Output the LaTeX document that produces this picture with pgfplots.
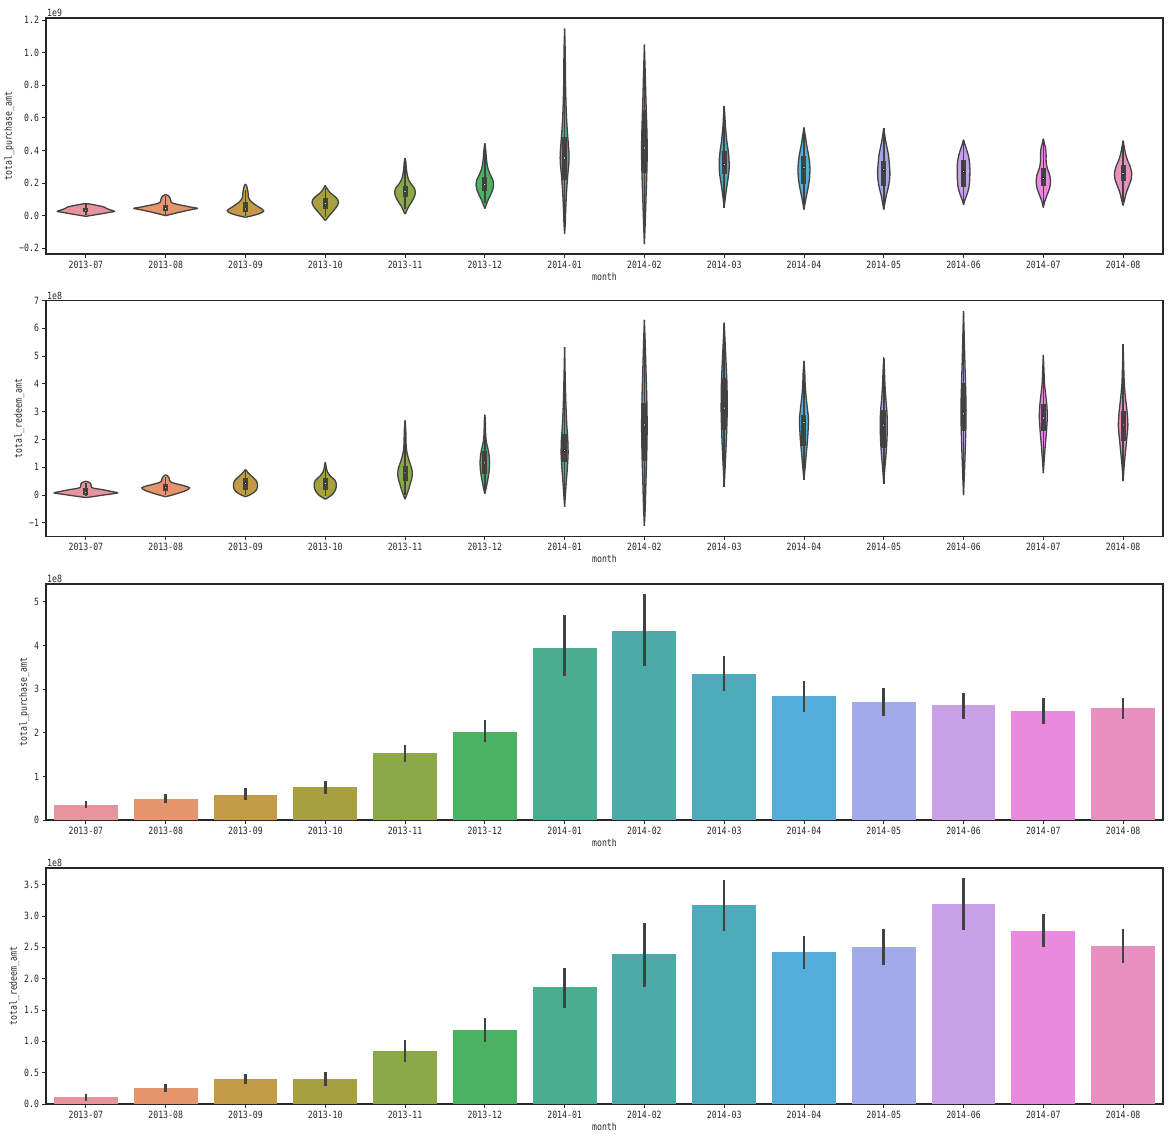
\documentclass[border=0pt]{standalone}
\usepackage{fontspec}
\usepackage{pgfplots}
\usepackage{pgfplotstable}
\pgfplotsset{compat=1.18}
\newfontfamily\hei[FakeStretch=0.82]{DejaVu Sans Mono}
\newcommand\tf{\hei\fontsize{10}{12}\selectfont}

\definecolor{c0}{HTML}{E8949D}
\definecolor{c1}{HTML}{E4956B}
\definecolor{c2}{HTML}{C29A48}
\definecolor{c3}{HTML}{A7A03F}
\definecolor{c4}{HTML}{8BA947}
\definecolor{c5}{HTML}{4AB262}
\definecolor{c6}{HTML}{4AAD90}
\definecolor{c7}{HTML}{4BAAA8}
\definecolor{c8}{HTML}{4EABBB}
\definecolor{c9}{HTML}{55AED9}
\definecolor{c10}{HTML}{A2AAE9}
\definecolor{c11}{HTML}{C7A0E6}
\definecolor{c12}{HTML}{E98ADF}
\definecolor{c13}{HTML}{E890BF}
\definecolor{vgray}{HTML}{424242}
\definecolor{axc}{HTML}{262626}

% ---------- violin outlines, plot 1 (1e9): y, half-width (category units)
\pgfplotstableread[row sep=\\]{y w\\ -0.004 0\\ 0.004 0.1\\ 0.012 0.2\\ 0.02 0.29\\ 0.026 0.36\\ 0.032 0.33\\ 0.04 0.28\\ 0.047 0.25\\ 0.053 0.23\\ 0.06 0.17\\ 0.067 0.1\\ 0.072 0.04\\ 0.074 0\\}\pA
\pgfplotstableread[row sep=\\]{y w\\ 0.0 0\\ 0.01 0.08\\ 0.022 0.18\\ 0.035 0.3\\ 0.045 0.4\\ 0.052 0.32\\ 0.06 0.24\\ 0.067 0.17\\ 0.075 0.1\\ 0.085 0.065\\ 0.1 0.06\\ 0.113 0.05\\ 0.123 0.03\\ 0.13 0\\}\pB
\pgfplotstableread[row sep=\\]{y w\\ -0.01 0\\ 0.0 0.09\\ 0.01 0.16\\ 0.02 0.21\\ 0.03 0.23\\ 0.04 0.21\\ 0.055 0.16\\ 0.07 0.115\\ 0.085 0.075\\ 0.1 0.05\\ 0.115 0.035\\ 0.13 0.035\\ 0.15 0.03\\ 0.17 0.022\\ 0.185 0.012\\ 0.194 0\\}\pC
\pgfplotstableread[row sep=\\]{y w\\ -0.03 0\\ -0.015 0.025\\ 0.0 0.05\\ 0.02 0.085\\ 0.04 0.12\\ 0.06 0.15\\ 0.08 0.165\\ 0.1 0.155\\ 0.12 0.115\\ 0.135 0.075\\ 0.15 0.045\\ 0.165 0.025\\ 0.185 0\\}\pD
\pgfplotstableread[row sep=\\]{y w\\ 0.01 0\\ 0.03 0.02\\ 0.06 0.05\\ 0.09 0.09\\ 0.12 0.12\\ 0.145 0.13\\ 0.17 0.115\\ 0.195 0.075\\ 0.22 0.045\\ 0.25 0.028\\ 0.29 0.016\\ 0.33 0.01\\ 0.353 0\\}\pE
\pgfplotstableread[row sep=\\]{y w\\ 0.043 0\\ 0.07 0.02\\ 0.1 0.045\\ 0.13 0.075\\ 0.16 0.1\\ 0.19 0.11\\ 0.22 0.1\\ 0.25 0.07\\ 0.28 0.045\\ 0.31 0.03\\ 0.35 0.02\\ 0.4 0.012\\ 0.445 0\\}\pF
\pgfplotstableread[row sep=\\]{y w\\ -0.11 0\\ -0.05 0.008\\ 0.05 0.015\\ 0.15 0.025\\ 0.25 0.04\\ 0.33 0.055\\ 0.38 0.055\\ 0.45 0.045\\ 0.55 0.03\\ 0.65 0.02\\ 0.8 0.012\\ 1.0 0.008\\ 1.147 0\\}\pG
\pgfplotstableread[row sep=\\]{y w\\ -0.175 0\\ -0.05 0.01\\ 0.1 0.02\\ 0.25 0.03\\ 0.4 0.036\\ 0.55 0.03\\ 0.7 0.02\\ 0.85 0.012\\ 1.049 0\\}\pH
\pgfplotstableread[row sep=\\]{y w\\ 0.05 0\\ 0.1 0.012\\ 0.15 0.025\\ 0.2 0.04\\ 0.25 0.055\\ 0.3 0.063\\ 0.35 0.06\\ 0.4 0.05\\ 0.45 0.035\\ 0.5 0.025\\ 0.55 0.015\\ 0.6 0.01\\ 0.671 0\\}\pI
\pgfplotstableread[row sep=\\]{y w\\ 0.037 0\\ 0.08 0.015\\ 0.13 0.035\\ 0.18 0.055\\ 0.23 0.07\\ 0.28 0.075\\ 0.33 0.07\\ 0.38 0.055\\ 0.43 0.035\\ 0.48 0.02\\ 0.541 0\\}\pJ
\pgfplotstableread[row sep=\\]{y w\\ 0.037 0\\ 0.08 0.015\\ 0.13 0.035\\ 0.18 0.06\\ 0.23 0.075\\ 0.27 0.077\\ 0.32 0.07\\ 0.37 0.06\\ 0.42 0.04\\ 0.47 0.02\\ 0.537 0\\}\pK
\pgfplotstableread[row sep=\\]{y w\\ 0.067 0\\ 0.1 0.02\\ 0.14 0.05\\ 0.18 0.07\\ 0.23 0.078\\ 0.28 0.08\\ 0.33 0.075\\ 0.37 0.06\\ 0.41 0.035\\ 0.44 0.015\\ 0.466 0\\}\pL
\pgfplotstableread[row sep=\\]{y w\\ 0.051 0\\ 0.09 0.02\\ 0.13 0.05\\ 0.17 0.08\\ 0.21 0.09\\ 0.25 0.08\\ 0.29 0.05\\ 0.33 0.035\\ 0.37 0.035\\ 0.41 0.03\\ 0.44 0.015\\ 0.472 0\\}\pM
\pgfplotstableread[row sep=\\]{y w\\ 0.063 0\\ 0.1 0.02\\ 0.14 0.04\\ 0.18 0.07\\ 0.22 0.1\\ 0.26 0.108\\ 0.3 0.09\\ 0.34 0.055\\ 0.38 0.03\\ 0.42 0.015\\ 0.46 0\\}\pN
\pgfplotstableread[row sep=\\]{x lo q1 med q3 hi\\ 0 0.005 0.02 0.033 0.05 0.07\\ 1 0.005 0.03 0.043 0.065 0.12\\ 2 0.0 0.025 0.041 0.085 0.16\\ 3 -0.01 0.04 0.074 0.11 0.17\\ 4 0.04 0.115 0.147 0.18 0.33\\ 5 0.08 0.15 0.19 0.24 0.41\\ 6 -0.1 0.22 0.353 0.48 1.14\\ 7 -0.17 0.26 0.415 0.65 1.04\\ 8 0.05 0.255 0.313 0.395 0.67\\ 9 0.04 0.196 0.296 0.368 0.54\\ 10 0.04 0.18 0.282 0.333 0.535\\ 11 0.07 0.174 0.27 0.343 0.465\\ 12 0.05 0.18 0.227 0.292 0.47\\ 13 0.065 0.21 0.258 0.313 0.46\\}\boxP

% ---------- violin outlines, plot 2 (1e8)
\pgfplotstableread[row sep=\\]{y w\\ -0.09 0\\ -0.05 0.1\\ 0.0 0.22\\ 0.04 0.32\\ 0.08 0.4\\ 0.12 0.34\\ 0.16 0.27\\ 0.2 0.2\\ 0.24 0.11\\ 0.28 0.07\\ 0.35 0.065\\ 0.42 0.06\\ 0.46 0.04\\ 0.5 0\\}\rA
\pgfplotstableread[row sep=\\]{y w\\ -0.06 0\\ 0.0 0.08\\ 0.08 0.17\\ 0.17 0.26\\ 0.26 0.3\\ 0.32 0.25\\ 0.38 0.17\\ 0.45 0.08\\ 0.52 0.05\\ 0.6 0.045\\ 0.67 0.03\\ 0.73 0\\}\rB
\pgfplotstableread[row sep=\\]{y w\\ -0.06 0\\ 0.0 0.05\\ 0.1 0.11\\ 0.2 0.14\\ 0.3 0.15\\ 0.4 0.15\\ 0.5 0.14\\ 0.6 0.11\\ 0.7 0.07\\ 0.8 0.035\\ 0.92 0\\}\rC
\pgfplotstableread[row sep=\\]{y w\\ -0.15 0\\ -0.08 0.04\\ 0.0 0.08\\ 0.1 0.11\\ 0.2 0.13\\ 0.3 0.138\\ 0.42 0.138\\ 0.52 0.125\\ 0.62 0.09\\ 0.72 0.055\\ 0.82 0.03\\ 0.95 0.015\\ 1.08 0.008\\ 1.18 0\\}\rD
\pgfplotstableread[row sep=\\]{y w\\ -0.15 0\\ 0.0 0.02\\ 0.2 0.045\\ 0.4 0.065\\ 0.6 0.085\\ 0.8 0.092\\ 1.0 0.08\\ 1.2 0.055\\ 1.4 0.035\\ 1.6 0.02\\ 1.9 0.012\\ 2.3 0.01\\ 2.69 0\\}\rE
\pgfplotstableread[row sep=\\]{y w\\ 0.05 0\\ 0.3 0.02\\ 0.6 0.04\\ 0.9 0.055\\ 1.15 0.06\\ 1.4 0.055\\ 1.65 0.04\\ 1.9 0.02\\ 2.2 0.01\\ 2.6 0.007\\ 2.89 0\\}\rF
\pgfplotstableread[row sep=\\]{y w\\ -0.42 0\\ 0.0 0.01\\ 0.5 0.022\\ 1.0 0.035\\ 1.5 0.044\\ 2.0 0.04\\ 2.5 0.028\\ 3.0 0.02\\ 3.5 0.014\\ 4.2 0.008\\ 5.32 0\\}\rG
\pgfplotstableread[row sep=\\]{y w\\ -1.11 0\\ -0.5 0.01\\ 0.5 0.02\\ 1.5 0.03\\ 2.5 0.035\\ 3.5 0.03\\ 4.5 0.02\\ 5.5 0.01\\ 6.3 0\\}\rH
\pgfplotstableread[row sep=\\]{y w\\ 0.3 0\\ 1.0 0.012\\ 2.0 0.028\\ 3.0 0.038\\ 4.0 0.035\\ 5.0 0.02\\ 5.6 0.01\\ 6.2 0\\}\rI
\pgfplotstableread[row sep=\\]{y w\\ 0.56 0\\ 1.0 0.015\\ 1.5 0.03\\ 2.0 0.045\\ 2.5 0.055\\ 2.8 0.055\\ 3.2 0.04\\ 3.6 0.025\\ 4.0 0.015\\ 4.4 0.01\\ 4.83 0\\}\rJ
\pgfplotstableread[row sep=\\]{y w\\ 0.41 0\\ 1.0 0.015\\ 1.5 0.03\\ 2.0 0.04\\ 2.5 0.045\\ 3.0 0.04\\ 3.5 0.025\\ 4.0 0.015\\ 4.5 0.008\\ 4.95 0\\}\rK
\pgfplotstableread[row sep=\\]{y w\\ 0.0 0\\ 0.7 0.01\\ 1.5 0.02\\ 2.5 0.03\\ 3.2 0.032\\ 4.0 0.025\\ 5.0 0.015\\ 5.8 0.008\\ 6.62 0\\}\rL
\pgfplotstableread[row sep=\\]{y w\\ 0.79 0\\ 1.3 0.012\\ 1.8 0.025\\ 2.3 0.04\\ 2.8 0.05\\ 3.2 0.045\\ 3.6 0.03\\ 4.0 0.015\\ 4.5 0.008\\ 5.04 0\\}\rM
\pgfplotstableread[row sep=\\]{y w\\ 0.5 0\\ 1.0 0.012\\ 1.5 0.028\\ 2.0 0.045\\ 2.5 0.06\\ 3.0 0.05\\ 3.5 0.03\\ 4.0 0.015\\ 4.6 0.008\\ 5.43 0\\}\rN
\pgfplotstableread[row sep=\\]{x lo q1 med q3 hi\\ 0 -0.05 0.0 0.1 0.25 0.45\\ 1 0.0 0.15 0.26 0.4 0.65\\ 2 0.0 0.2 0.42 0.62 0.85\\ 3 -0.05 0.2 0.42 0.6 1.0\\ 4 0.0 0.5 0.8 1.05 2.6\\ 5 0.1 0.75 1.16 1.6 2.8\\ 6 -0.4 1.2 1.6 2.2 5.3\\ 7 -1.1 1.22 2.52 3.31 6.2\\ 8 0.3 2.35 3.13 4.21 6.15\\ 9 0.56 1.76 2.61 2.89 4.8\\ 10 0.41 1.7 2.52 3.07 4.9\\ 11 0.0 2.29 2.92 4.03 6.6\\ 12 0.79 2.29 2.77 3.28 5.0\\ 13 0.5 1.94 2.52 3.01 5.4\\}\boxR

% ---------- bars: mean, ci low, ci high
\pgfplotstableread[row sep=\\]{x y lo hi\\ 0 0.35 0.27 0.43\\ 1 0.49 0.40 0.60\\ 2 0.58 0.45 0.74\\ 3 0.76 0.59 0.89\\ 4 1.54 1.32 1.72\\ 5 2.02 1.78 2.29\\ 6 3.94 3.29 4.70\\ 7 4.33 3.54 5.17\\ 8 3.35 2.96 3.76\\ 9 2.84 2.48 3.19\\ 10 2.71 2.39 3.03\\ 11 2.64 2.32 2.91\\ 12 2.50 2.21 2.80\\ 13 2.57 2.32 2.80\\}\barP
\pgfplotstableread[row sep=\\]{x y lo hi\\ 0 0.11 0.05 0.16\\ 1 0.255 0.19 0.32\\ 2 0.40 0.32 0.48\\ 3 0.40 0.29 0.51\\ 4 0.845 0.67 1.02\\ 5 1.18 0.99 1.37\\ 6 1.86 1.53 2.17\\ 7 2.39 1.87 2.88\\ 8 3.17 2.76 3.58\\ 9 2.42 2.15 2.68\\ 10 2.50 2.21 2.79\\ 11 3.19 2.77 3.60\\ 12 2.76 2.50 3.03\\ 13 2.52 2.25 2.80\\}\barR

\newcommand{\violin}[3]{%
  \addplot[fill=#2, draw=none, smooth, tension=0.4] table[x expr=#1+\thisrow{w}, y=y]{#3};
  \addplot[fill=#2, draw=none, smooth, tension=0.4] table[x expr=#1-\thisrow{w}, y=y]{#3};
  \addplot[draw=vgray, line width=1.3pt, line join=round, smooth, tension=0.4] table[x expr=#1+\thisrow{w}, y=y]{#3};
  \addplot[draw=vgray, line width=1.3pt, line join=round, smooth, tension=0.4] table[x expr=#1-\thisrow{w}, y=y]{#3};
}
\newcommand{\innerbox}[1]{%
  \addplot[draw=none, mark=none, error bars/.cd, y dir=both, y explicit, error mark=none,
    error bar style={draw=vgray, line width=1.5pt}]
    table[x=x, y=med, y error plus expr=\thisrow{hi}-\thisrow{med}, y error minus expr=\thisrow{med}-\thisrow{lo}]{#1};
  \addplot[draw=none, mark=none, error bars/.cd, y dir=both, y explicit, error mark=none,
    error bar style={draw=vgray, line width=5pt}]
    table[x=x, y=med, y error plus expr=\thisrow{q3}-\thisrow{med}, y error minus expr=\thisrow{med}-\thisrow{q1}]{#1};
  \addplot[only marks, mark=*, mark size=1.3pt, mark options={fill=white, draw=none}]
    table[x=x, y=med]{#1};
}
\newcommand{\cibars}[1]{%
  \addplot[draw=none, mark=none, error bars/.cd, y dir=both, y explicit, error mark=none,
    error bar style={draw=vgray, line width=2.6pt}]
    table[x=x, y=y, y error plus expr=\thisrow{hi}-\thisrow{y}, y error minus expr=\thisrow{y}-\thisrow{lo}]{#1};
}

\pgfplotsset{
  base/.style={
    scale only axis, width=1117pt, height=236pt, anchor=north west,
    xmin=-0.5, xmax=13.5, xtick={0,...,13},
    xticklabels={2013-07,2013-08,2013-09,2013-10,2013-11,2013-12,2014-01,2014-02,2014-03,2014-04,2014-05,2014-06,2014-07,2014-08},
    tick pos=left, tick align=outside, major tick length=3.5pt,
    tick style={axc, line width=0.9pt},
    axis line style={axc, line width=1.1pt},
    ticklabel style={font=\tf, text=axc},
    label style={font=\tf, text=axc},
    xlabel={month},
    xlabel style={yshift=3pt},
    ylabel style={yshift=-2pt},
  },
  bar/.style={ybar, bar width=0.8, bar shift=0pt, draw=none},
}

\begin{document}
\begin{tikzpicture}
\useasboundingbox (0,0) rectangle (1173pt,-1138pt);

% ---------------- plot 1
\begin{axis}[base, at={(46pt,-18pt)},
  ymin=-0.235, ymax=1.212,
  ytick={-0.2,0,0.2,0.4,0.6,0.8,1.0,1.2},
  yticklabels={−0.2,0.0,0.2,0.4,0.6,0.8,1.0,1.2},
  ylabel={total\_purchase\_amt},
  extra description/.code={\node[anchor=south west, font=\tf, text=axc, inner sep=1pt] at (0,1) {1e9};}]
\violin{0}{c0}{\pA}
\violin{1}{c1}{\pB}
\violin{2}{c2}{\pC}
\violin{3}{c3}{\pD}
\violin{4}{c4}{\pE}
\violin{5}{c5}{\pF}
\violin{6}{c6}{\pG}
\violin{7}{c7}{\pH}
\violin{8}{c8}{\pI}
\violin{9}{c9}{\pJ}
\violin{10}{c10}{\pK}
\violin{11}{c11}{\pL}
\violin{12}{c12}{\pM}
\violin{13}{c13}{\pN}
\innerbox{\boxP}
\end{axis}

% ---------------- plot 2
\begin{axis}[base, at={(46pt,-300.5pt)},
  ymin=-1.49, ymax=7.0,
  ytick={-1,0,1,2,3,4,5,6,7},
  yticklabels={−1,0,1,2,3,4,5,6,7},
  ylabel={total\_redeem\_amt},
  extra description/.code={\node[anchor=south west, font=\tf, text=axc, inner sep=1pt] at (0,1) {1e8};}]
\violin{0}{c0}{\rA}
\violin{1}{c1}{\rB}
\violin{2}{c2}{\rC}
\violin{3}{c3}{\rD}
\violin{4}{c4}{\rE}
\violin{5}{c5}{\rF}
\violin{6}{c6}{\rG}
\violin{7}{c7}{\rH}
\violin{8}{c8}{\rI}
\violin{9}{c9}{\rJ}
\violin{10}{c10}{\rK}
\violin{11}{c11}{\rL}
\violin{12}{c12}{\rM}
\violin{13}{c13}{\rN}
\innerbox{\boxR}
\end{axis}

% ---------------- plot 3
\begin{axis}[base, at={(46pt,-584pt)},
  ymin=0, ymax=5.41,
  ytick={0,1,2,3,4,5},
  yticklabels={0,1,2,3,4,5},
  ylabel={total\_purchase\_amt},
  extra description/.code={\node[anchor=south west, font=\tf, text=axc, inner sep=1pt] at (0,1) {1e8};}]
\addplot[bar, fill=c0] coordinates {(0,0.35)};
\addplot[bar, fill=c1] coordinates {(1,0.49)};
\addplot[bar, fill=c2] coordinates {(2,0.58)};
\addplot[bar, fill=c3] coordinates {(3,0.76)};
\addplot[bar, fill=c4] coordinates {(4,1.54)};
\addplot[bar, fill=c5] coordinates {(5,2.02)};
\addplot[bar, fill=c6] coordinates {(6,3.94)};
\addplot[bar, fill=c7] coordinates {(7,4.33)};
\addplot[bar, fill=c8] coordinates {(8,3.35)};
\addplot[bar, fill=c9] coordinates {(9,2.84)};
\addplot[bar, fill=c10] coordinates {(10,2.71)};
\addplot[bar, fill=c11] coordinates {(11,2.64)};
\addplot[bar, fill=c12] coordinates {(12,2.50)};
\addplot[bar, fill=c13] coordinates {(13,2.57)};
\cibars{\barP}
\end{axis}

% ---------------- plot 4
\begin{axis}[base, at={(46pt,-868pt)},
  ymin=0, ymax=3.765,
  ytick={0,0.5,1,1.5,2,2.5,3,3.5},
  yticklabels={0.0,0.5,1.0,1.5,2.0,2.5,3.0,3.5},
  ylabel={total\_redeem\_amt},
  extra description/.code={\node[anchor=south west, font=\tf, text=axc, inner sep=1pt] at (0,1) {1e8};}]
\addplot[bar, fill=c0] coordinates {(0,0.11)};
\addplot[bar, fill=c1] coordinates {(1,0.255)};
\addplot[bar, fill=c2] coordinates {(2,0.40)};
\addplot[bar, fill=c3] coordinates {(3,0.40)};
\addplot[bar, fill=c4] coordinates {(4,0.845)};
\addplot[bar, fill=c5] coordinates {(5,1.18)};
\addplot[bar, fill=c6] coordinates {(6,1.86)};
\addplot[bar, fill=c7] coordinates {(7,2.39)};
\addplot[bar, fill=c8] coordinates {(8,3.17)};
\addplot[bar, fill=c9] coordinates {(9,2.42)};
\addplot[bar, fill=c10] coordinates {(10,2.50)};
\addplot[bar, fill=c11] coordinates {(11,3.19)};
\addplot[bar, fill=c12] coordinates {(12,2.76)};
\addplot[bar, fill=c13] coordinates {(13,2.52)};
\cibars{\barR}
\end{axis}
\end{tikzpicture}
\end{document}
